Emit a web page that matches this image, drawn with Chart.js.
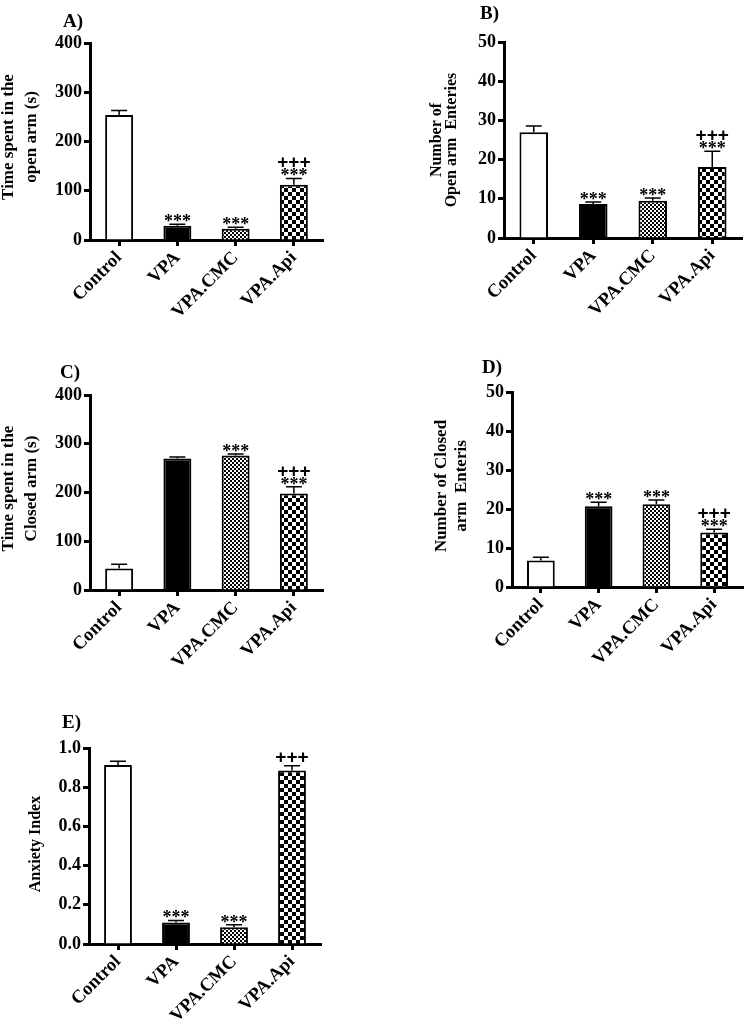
<!DOCTYPE html>
<html>
<head>
<meta charset="utf-8">
<script src="https://cdn.jsdelivr.net/npm/chart.js@4.4.1/dist/chart.umd.min.js"></script>
<style>
  html, body { margin: 0; padding: 0; background: #fff; }
  #wrap { position: relative; width: 748px; height: 1024px; background: #fff; overflow: hidden; }
  #wrap canvas { position: absolute; }
</style>
</head>
<body>
<div id="wrap">
  <canvas id="cA" width="374" height="340" style="left:0;top:0"></canvas>
  <canvas id="cB" width="374" height="340" style="left:374px;top:0"></canvas>
  <canvas id="cC" width="374" height="360" style="left:0;top:330px"></canvas>
  <canvas id="cD" width="374" height="360" style="left:374px;top:330px"></canvas>
  <canvas id="cE" width="374" height="364" style="left:0;top:660px"></canvas>
</div>
<script>
const groups = ['Control', 'VPA', 'VPA.CMC', 'VPA.Api'];

// A) time spent in the open arm (s)
const openTime = [254, 29, 23, 112];
const openTimeSem = [9, 3, 3, 13];
const openTimeStars = ['', '***', '***', '***'];
const openTimePlus = ['', '', '', '+++'];

// B) number of open arm entries
const openEntries = [27.0, 8.7, 9.5, 18.1];
const openEntriesSem = [1.6, 0.5, 0.7, 4.0];
const openEntriesStars = ['', '***', '***', '***'];
const openEntriesPlus = ['', '', '', '+++'];

// C) time spent in the closed arm (s)
const closedTime = [44, 270, 276, 198];
const closedTimeSem = [9, 3, 3, 14];
const closedTimeStars = ['', '', '***', '***'];
const closedTimePlus = ['', '', '', '+++'];

// D) number of closed arm entries
const closedEntries = [6.8, 20.7, 21.2, 14.0];
const closedEntriesSem = [0.8, 1.0, 1.1, 0.8];
const closedEntriesStars = ['', '***', '***', '***'];
const closedEntriesPlus = ['', '', '', '+++'];

// E) anxiety index
const anxiety = [0.913, 0.11, 0.085, 0.885];
const anxietySem = [0.02, 0.01, 0.013, 0.025];
const anxietyStars = ['', '***', '***', ''];
const anxietyPlus = ['', '', '', '+++'];

// y axis ranges / tick steps
const timeAxis = [0, 400, 100];
const entriesAxis = [0, 50, 10];
const indexAxis = [0, 1.0, 0.2];

const FONT = 'Liberation Serif';

function checker(size) {
  const c = document.createElement('canvas');
  c.width = c.height = size * 2;
  const g = c.getContext('2d');
  g.fillStyle = '#fff';
  g.fillRect(0, 0, size * 2, size * 2);
  g.fillStyle = '#000';
  g.fillRect(0, 0, size, size);
  g.fillRect(size, size, size, size);
  return g.createPattern(c, 'repeat');
}

const fills = ['#ffffff', '#000000', checker(2), checker(4)];

// error bars (upper only) + significance marks
const marks = {
  id: 'marks',
  afterDatasetsDraw(chart, args, o) {
    const ctx = chart.ctx;
    const y = chart.scales.y;
    ctx.save();
    ctx.strokeStyle = '#000';
    ctx.fillStyle = '#000';
    ctx.lineWidth = 1.5;
    ctx.textAlign = 'center';
    ctx.textBaseline = 'alphabetic';
    chart.getDatasetMeta(0).data.forEach((bar, i) => {
      const top = y.getPixelForValue(o.values[i] + o.sem[i]);
      ctx.beginPath();
      ctx.moveTo(bar.x, bar.y);
      ctx.lineTo(bar.x, top);
      ctx.moveTo(bar.x - 8, top);
      ctx.lineTo(bar.x + 8, top);
      ctx.stroke();
      if (o.stars[i]) {
        ctx.font = 'bold 18px "' + FONT + '"';
        ctx.fillText(o.stars[i], bar.x, top + 3);
      }
      if (o.plus[i]) {
        ctx.font = 'bold 19px "Liberation Sans"';
        ctx.fillText(o.plus[i], bar.x, o.stars[i] ? top - 10 : top - 3);
      }
    });
    ctx.restore();
  }
};

// panel letter + rotated y title
const panelText = {
  id: 'panelText',
  afterDraw(chart, args, o) {
    const ctx = chart.ctx;
    ctx.save();
    ctx.fillStyle = '#000';
    ctx.textBaseline = 'middle';
    ctx.textAlign = 'left';
    ctx.font = 'bold 19px "' + FONT + '"';
    ctx.fillText(o.letter, o.letterX, o.letterY);
    ctx.font = 'bold ' + o.size + 'px "' + FONT + '"';
    ctx.textAlign = 'center';
    o.title.forEach((line, k) => {
      ctx.save();
      ctx.translate(o.titleX + k * o.gap, o.titleY);
      ctx.rotate(-Math.PI / 2);
      ctx.fillText(line, 0, 0);
      ctx.restore();
    });
    ctx.restore();
  }
};

function panel(id, values, sem, stars, plus, axis, decimals, box, text) {
  const grid = {
    display: true, drawOnChartArea: false, offset: false,
    tickLength: 6, tickWidth: 3, tickColor: '#000'
  };
  return new Chart(document.getElementById(id), {
    type: 'bar',
    data: {
      labels: groups,
      datasets: [{
        data: values,
        backgroundColor: fills,
        borderColor: '#000',
        borderWidth: 2,
        barPercentage: 0.48,
        categoryPercentage: 1
      }]
    },
    options: {
      responsive: false,
      animation: false,
      devicePixelRatio: 1,
      layout: { padding: { top: box.top, right: box.right, left: 0, bottom: 0 } },
      plugins: {
        legend: { display: false },
        tooltip: { enabled: false },
        marks: { values: values, sem: sem, stars: stars, plus: plus },
        panelText: text
      },
      scales: {
        x: {
          z: 1,
          grid: grid,
          border: { display: true, width: 3, color: '#000' },
          ticks: {
            color: '#000', font: { family: FONT, weight: 'bold', size: 18.5 }, padding: 1,
            minRotation: 45, maxRotation: 45, autoSkip: false
          },
          afterFit(s) { s.height = box.xh; }
        },
        y: {
          z: 1,
          min: axis[0],
          max: axis[1],
          grid: grid,
          border: { display: true, width: 3, color: '#000' },
          ticks: {
            stepSize: axis[2], color: '#000', font: { family: FONT, weight: 'bold', size: 18 }, padding: 2,
            callback: v => Number(v).toFixed(decimals)
          },
          afterFit(s) { s.width = box.yw; }
        }
      }
    },
    plugins: [marks, panelText]
  });
}

panel('cA', openTime, openTimeSem, openTimeStars, openTimePlus, timeAxis, 0,
  { top: 43, right: 51, yw: 90, xh: 100 },
  { letter: 'A)', letterX: 63, letterY: 22, title: ['Time spent in the', 'open arm (s)'],
    titleX: 8.5, titleY: 137, gap: 23.5, size: 17 });

panel('cB', openEntries, openEntriesSem, openEntriesStars, openEntriesPlus, entriesAxis, 0,
  { top: 42, right: 6, yw: 130, xh: 102 },
  { letter: 'B)', letterX: 106, letterY: 14, title: ['Number of', 'Open arm  Enteries'],
    titleX: 63, titleY: 140, gap: 15, size: 16 });

panel('cC', closedTime, closedTimeSem, closedTimeStars, closedTimePlus, timeAxis, 0,
  { top: 65, right: 51, yw: 90, xh: 100 },
  { letter: 'C)', letterX: 60, letterY: 43, title: ['Time spent in the', 'Closed arm (s)'],
    titleX: 8.5, titleY: 158.5, gap: 23.5, size: 17 });

panel('cD', closedEntries, closedEntriesSem, closedEntriesStars, closedEntriesPlus, entriesAxis, 0,
  { top: 62, right: 5, yw: 138, xh: 103 },
  { letter: 'D)', letterX: 108, letterY: 38, title: ['Number of Closed', 'arm  Enteris'],
    titleX: 67.5, titleY: 156, gap: 20, size: 17 });

panel('cE', anxiety, anxietySem, anxietyStars, anxietyPlus, indexAxis, 1,
  { top: 88, right: 53, yw: 89, xh: 80 },
  { letter: 'E)', letterX: 62, letterY: 63, title: ['Anxiety Index'],
    titleX: 36, titleY: 184, gap: 0, size: 16 });
</script>
</body>
</html>
